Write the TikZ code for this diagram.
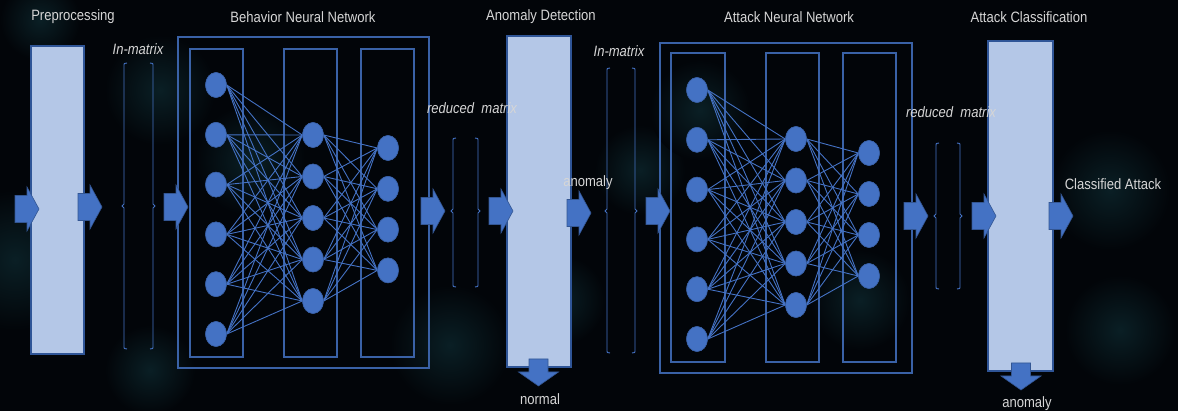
\documentclass[tikz,border=0pt]{standalone}
\usepackage{fontspec}
\setmainfont{Liberation Sans}[FakeStretch=0.87]
\usetikzlibrary{shapes.geometric}

\definecolor{bgdark}{HTML}{020509}
\definecolor{blobteal}{HTML}{0A1F25}
\definecolor{stagefill}{HTML}{B4C7E7}
\definecolor{stageline}{HTML}{2F5597}
\definecolor{netblue}{HTML}{4472C4}
\definecolor{frameblue}{HTML}{3A62A7}
\definecolor{labelgray}{HTML}{D6D6D6}

\tikzset{
  stagebox/.style={draw=stageline, line width=1.2pt, fill=stagefill},
  netframe/.style={draw=frameblue, line width=1.2pt},
  neuron/.style={ellipse, fill=netblue, draw=netblue!80!black, line width=0.5pt,
                 minimum width=21pt, minimum height=25pt, inner sep=0pt},
  synapse/.style={draw=netblue, line width=0.9pt},
  blockarrow/.style={fill=netblue, draw=netblue!75!black, line width=0.6pt},
  bracepath/.style={draw=netblue, line width=0.9pt},
  title/.style={text=labelgray, font=\fontsize{15}{18}\selectfont, inner sep=0pt},
  tag/.style={text=labelgray, font=\fontsize{15}{18}\selectfont\itshape, inner sep=0pt},
  blob/.style={shading=radial, inner color=blobteal, outer color=bgdark},
  pics/rightarrow/.style={code={
    \path[blockarrow] (0,-13.5) -- (12,-13.5) -- (12,-22) -- (24,0) -- (12,22) -- (12,13.5) -- (0,13.5) -- cycle;}},
  pics/downarrow/.style={code={
    \path[blockarrow] (-9.5,0) -- (9.5,0) -- (9.5,13) -- (20,13) -- (0,27) -- (-20,13) -- (-9.5,13) -- cycle;}},
}

% a tall pair of thin curly braces around a matrix
\newcommand{\matrixbraces}[5]{%
  \draw[bracepath] (#1+3,#3) .. controls (#1,#3) .. (#1,#3+4) -- (#1,#5-2) -- (#1-2,#5) -- (#1,#5+2)
        -- (#1,#4-4) .. controls (#1,#4) .. (#1+3,#4);
  \draw[bracepath] (#2-3,#3) .. controls (#2,#3) .. (#2,#3+4) -- (#2,#5-2) -- (#2+2,#5) -- (#2,#5+2)
        -- (#2,#4-4) .. controls (#2,#4) .. (#2-3,#4);
}

\begin{document}
\begin{tikzpicture}[x=1pt, y=-1pt]
\useasboundingbox (0,0) rectangle (1178,411);
\fill[bgdark] (0,0) rectangle (1178,411);

% soft background glow
\foreach \bx/\by/\br in {15/260/70, 160/90/55, 150/370/45, 450/345/60, 640/170/45,
                         700/110/50, 250/160/55, 1110/190/60, 1120/330/55, 860/300/50,
                         40/20/40, 560/300/45}
  \path[blob] (\bx,\by) circle (\br);

% ---------- stage columns ----------
\path[stagebox] (31,46) rectangle (84,354);
\path[stagebox] (507,36) rectangle (571,367);
\path[stagebox] (988,41) rectangle (1053,371);

% ---------- network frames ----------
\draw[netframe] (178,37) rectangle (429,368);
\draw[netframe] (190,49) rectangle (243,357);
\draw[netframe] (284,49) rectangle (337,357);
\draw[netframe] (361,49) rectangle (414,357);

\draw[netframe] (660,43) rectangle (912,373);
\draw[netframe] (671,53) rectangle (725,362);
\draw[netframe] (766,53) rectangle (819,362);
\draw[netframe] (843,53) rectangle (896,362);

% ---------- Behavior Neural Network ----------
\node[title] (tbnn) at (303,17) {Behavior Neural Network};
\foreach \i in {1,...,6} \node[neuron] (ba\i) at (216,{85+49.8*(\i-1)}) {};
\foreach \j in {1,...,5} \node[neuron] (bb\j) at (313,{135+41.5*(\j-1)}) {};
\foreach \k in {1,...,4} \node[neuron] (bc\k) at (388,{148+40.8*(\k-1)}) {};
\foreach \i in {1,...,6} \foreach \j in {1,...,5} \draw[synapse] (ba\i.east) -- (bb\j.west);
\foreach \j in {1,...,5} \foreach \k in {1,...,4} \draw[synapse] (bb\j.east) -- (bc\k.west);
\foreach \i in {1,...,6} \node[neuron] at (ba\i) {};
\foreach \j in {1,...,5} \node[neuron] at (bb\j) {};
\foreach \k in {1,...,4} \node[neuron] at (bc\k) {};

% ---------- Attack Neural Network ----------
\node[title] (tann) at (789,17) {Attack Neural Network};
\foreach \i in {1,...,6} \node[neuron] (aa\i) at (697,{90+49.8*(\i-1)}) {};
\foreach \j in {1,...,5} \node[neuron] (ab\j) at (796,{139+41.5*(\j-1)}) {};
\foreach \k in {1,...,4} \node[neuron] (ac\k) at (869,{153+41*(\k-1)}) {};
\foreach \i in {1,...,6} \foreach \j in {1,...,5} \draw[synapse] (aa\i.east) -- (ab\j.west);
\foreach \j in {1,...,5} \foreach \k in {1,...,4} \draw[synapse] (ab\j.east) -- (ac\k.west);
\foreach \i in {1,...,6} \node[neuron] at (aa\i) {};
\foreach \j in {1,...,5} \node[neuron] at (ab\j) {};
\foreach \k in {1,...,4} \node[neuron] at (ac\k) {};

% ---------- matrices ----------
\matrixbraces{124}{153}{63}{349}{206}
\matrixbraces{453}{478}{138}{287}{211}
\matrixbraces{607}{635}{68}{353}{211}
\matrixbraces{936}{960}{143}{289}{216}

% ---------- flow arrows ----------
\pic at (15,209) {rightarrow};
\pic at (78,207) {rightarrow};
\pic at (164,207) {rightarrow};
\pic at (421,211) {rightarrow};
\pic at (489,211) {rightarrow};
\pic at (567,213) {rightarrow};
\pic at (646,211) {rightarrow};
\pic at (904,216) {rightarrow};
\pic at (972,216) {rightarrow};
\pic at (1049,216) {rightarrow};
\pic at (538.5,359) {downarrow};
\pic at (1021,363) {downarrow};

% ---------- labels ----------
\node[title] (tpre) at (73,17) {Preprocessing};
\node[tag] (tin1) at (138,49) {In-matrix};
\node[tag] (tred1) at (472,108) {reduced\ \ matrix};
\node[title] (tad) at (541,17) {Anomaly Detection};
\node[title] (tnormal) at (540,399) {normal};
\node[title] (tanom1) at (588,183) {anomaly};
\node[tag] (tin2) at (619,51) {In-matrix};
\node[tag] (tred2) at (951,112) {reduced\ \ matrix};
\node[title] (tac) at (1029,17) {Attack Classification};
\node[title] (tanom2) at (1027,404) {anomaly};
\node[title] (tclass) at (1113,184) {Classified Attack};
\end{tikzpicture}
\end{document}
